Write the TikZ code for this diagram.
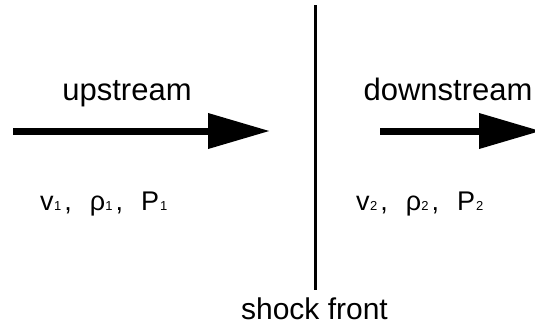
\documentclass[tikz,border=0pt]{standalone}
\usepackage{fontspec}
\setmainfont{Liberation Sans}
\usetikzlibrary{arrows.meta}
\tikzset{
  flow/.style={line width=7pt, -{Triangle[length=62pt,width=34pt]}},
  front/.style={line width=3pt},
  lbl/.style={anchor=base, inner sep=0pt, font=\fontsize{31}{36}\selectfont},
  vars/.style={anchor=base west, inner sep=0pt, font=\fontsize{27}{32}\selectfont},
}
\newcommand{\sbs}[1]{{\fontsize{13}{15}\selectfont #1}}
\begin{document}
\begin{tikzpicture}[x=1pt,y=-1pt]
\clip (0,0) rectangle (535,335);
\fill[white] (0,0) rectangle (535,335);
\coordinate (a1s) at (13,131);
\coordinate (a1e) at (270,131);
\coordinate (a2s) at (380,131);
\coordinate (a2e) at (541,131);
\coordinate (ft) at (315.5,5);
\coordinate (fb) at (315.5,290);
\draw[flow] (a1s) -- (a1e);
\draw[flow] (a2s) -- (a2e);
\draw[front] (ft) -- (fb);
\node[lbl] (up) at (127,100) {upstream};
\node[lbl] (down) at (448,100) {downstream};
\node[lbl,font=\fontsize{30}{35}\selectfont] (sf) at (314.5,319) {shock front};
\node[vars] (v1) at (40,210) {v\kern0.5pt\sbs{1}\kern3pt,\kern18pt ρ\sbs{1}\kern3pt,\kern18pt P\kern1pt\sbs{1}};
\node[vars] (v2) at (356,210) {v\kern0.5pt\sbs{2}\kern3pt,\kern18pt ρ\sbs{2}\kern3pt,\kern18pt P\kern1pt\sbs{2}};
\end{tikzpicture}
\end{document}
